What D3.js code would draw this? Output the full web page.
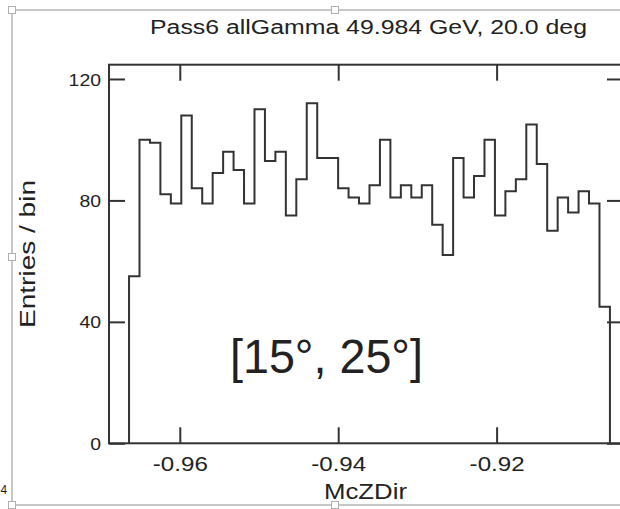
<!DOCTYPE html>
<html>
<head>
<meta charset="utf-8">
<script src="https://cdn.jsdelivr.net/npm/d3@7"></script>
<style>
  html, body { margin: 0; padding: 0; background: #fff; }
  svg { display: block; }
  text { font-family: "Liberation Sans", Arial, sans-serif; fill: #222; }
</style>
</head>
<body>
<svg id="chart" width="620" height="509"></svg>
<script>
// ---- data ----
const title = "Pass6 allGamma 49.984 GeV, 20.0 deg";
const xLabel = "McZDir";
const yLabel = "Entries / bin";
const annotation = "[15°, 25°]";
const binStart = -0.96641;
const binWidth = 0.00132;
const counts = [55,100,99,82,79,108,84,79,89,96,90,79,110,93,96,75,87,112,94,94,
                84,81,79,85,100,81,85,81,85,72,62,94,81,88,100,75,83,87,105,92,
                70,81,76,83,79,45];
const xTicks = [-0.96, -0.94, -0.92];
const xTickLabels = ["-0.96", "-0.94", "-0.92"];
const yTicks = [0, 40, 80, 120];
const yTickLabels = ["0", "40", "80", "120"];
const xDomain = [-0.96894, -0.90404];
const yDomain = [0, 124.7];

// ---- layout ----
const frame = { left: 109, right: 623, top: 64.7, bottom: 443.3 };
const svg = d3.select("#chart");
const x = d3.scaleLinear().domain(xDomain).range([frame.left, frame.right]);
const y = d3.scaleLinear().domain(yDomain).range([frame.bottom, frame.top]);
const ink = "#333";

// outer light-gray border with selection handles
const g0 = svg.append("g");
g0.append("line").attr("x1", 12).attr("x2", 640).attr("y1", 10).attr("y2", 10)
  .attr("stroke", "#c8c8c8").attr("stroke-width", 2);
g0.append("line").attr("x1", 12).attr("x2", 640).attr("y1", 505).attr("y2", 505)
  .attr("stroke", "#c8c8c8").attr("stroke-width", 2);
g0.append("line").attr("x1", 12).attr("x2", 12).attr("y1", 10).attr("y2", 505)
  .attr("stroke", "#c8c8c8").attr("stroke-width", 2);
[[12,10],[335,10],[12,257],[12,505],[335,505]].forEach(([hx,hy]) => {
  g0.append("rect").attr("x", hx-3.5).attr("y", hy-3.5).attr("width", 7).attr("height", 7)
    .attr("fill", "#fff").attr("stroke", "#b0b0b0").attr("stroke-width", 1);
});
g0.append("text").attr("x", 0.5).attr("y", 494).attr("font-size", 12).text("4");

// frame
svg.append("rect")
  .attr("x", frame.left).attr("y", frame.top)
  .attr("width", frame.right - frame.left).attr("height", frame.bottom - frame.top)
  .attr("fill", "none").attr("stroke", ink).attr("stroke-width", 2);

// axes via d3
const tickLen = 16;
const axB = d3.axisBottom(x).tickValues(xTicks).tickSize(-tickLen).tickFormat((d,i)=>xTickLabels[i]).tickPadding(10);
const axT = d3.axisTop(x).tickValues(xTicks).tickSize(-tickLen).tickFormat("");
const axL = d3.axisLeft(y).tickValues(yTicks).tickSize(-tickLen).tickFormat((d,i)=>yTickLabels[i]).tickPadding(8);
const axR = d3.axisRight(y).tickValues(yTicks).tickSize(-tickLen).tickFormat("");

function style(g) {
  g.select(".domain").remove();
  g.selectAll(".tick line").attr("stroke", ink).attr("stroke-width", 2);
  g.selectAll(".tick text").attr("fill", "#222").style("font-family", '"Liberation Sans", Arial, sans-serif');
}
const gB = svg.append("g").attr("transform", `translate(0,${frame.bottom})`).call(axB).call(style);
gB.selectAll(".tick text").attr("font-size", 20).attr("dy", "0.9em")
  .attr("textLength", 55).attr("lengthAdjust", "spacingAndGlyphs");
svg.append("g").attr("transform", `translate(0,${frame.top})`).call(axT).call(style);
const gL = svg.append("g").attr("transform", `translate(${frame.left},0)`).call(axL).call(style);
gL.selectAll(".tick text").attr("font-size", 17).attr("dy", "0.36em")
  .each(function(d,i){ const s = yTickLabels[i]; d3.select(this).attr("textLength", s.length*10.8).attr("lengthAdjust","spacingAndGlyphs"); });
svg.append("g").attr("transform", `translate(${frame.right},0)`).call(axR).call(style);

// histogram step outline
const pts = [];
counts.forEach((c, i) => {
  const x0 = binStart + i*binWidth, x1 = x0 + binWidth;
  if (i === 0) pts.push([x0, 0]);
  pts.push([x0, c]); pts.push([x1, c]);
  if (i === counts.length-1) pts.push([x1, 0]);
});
svg.append("path")
  .attr("d", d3.line().x(d => x(d[0])).y(d => y(d[1]))(pts))
  .attr("fill", "none").attr("stroke", ink).attr("stroke-width", 2)
  .attr("stroke-linejoin", "miter");

// title & labels
svg.append("text").attr("x", 150).attr("y", 34).attr("font-size", 20)
  .attr("textLength", 437).attr("lengthAdjust", "spacingAndGlyphs").text(title);
svg.append("text").attr("x", 324).attr("y", 499).attr("font-size", 22)
  .attr("textLength", 83).attr("lengthAdjust", "spacingAndGlyphs").text(xLabel);
svg.append("text").attr("transform", "translate(35,328) rotate(-90)").attr("font-size", 22)
  .attr("textLength", 148).attr("lengthAdjust", "spacingAndGlyphs").text(yLabel);
svg.append("text").attr("x", 230).attr("y", 373).attr("font-size", 48)
  .attr("textLength", 193).attr("lengthAdjust", "spacingAndGlyphs").attr("fill", "#000").text(annotation);
</script>
</body>
</html>
